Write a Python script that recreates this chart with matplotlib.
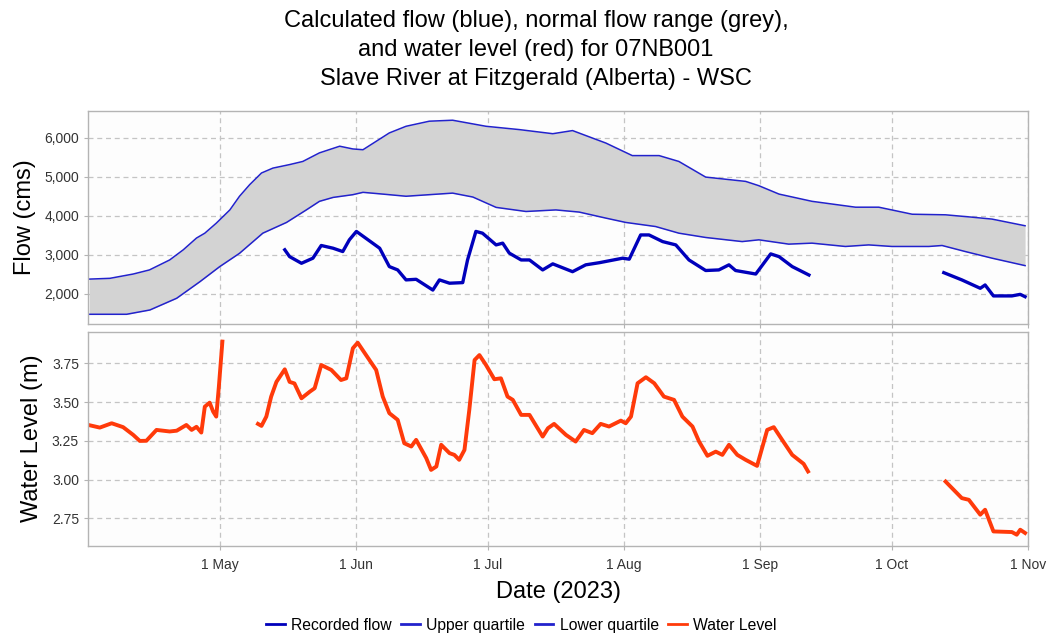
import numpy as np
import matplotlib
matplotlib.use("Agg")
import matplotlib.pyplot as plt
import matplotlib.dates as mdates
from matplotlib.ticker import FuncFormatter, FixedLocator
from matplotlib.lines import Line2D
from datetime import date

plt.rcParams['font.family'] = ['Liberation Sans', 'DejaVu Sans']

# ===== Data (days counted from 1 Apr 2023) =====
START = date(2023, 4, 1)
END = date(2023, 11, 1)

upper_days = [0.3, 5, 10.3, 14, 18.6, 21.7, 24.7, 26.6, 29.2, 32.3, 34.5, 36.8, 39.5, 42.1,
              45.9, 48.9, 52.7, 57.3, 60.3, 62.6, 68.6, 72.4, 77.7, 83, 90.6, 98.2, 105.8,
              110.3, 114.8, 117.9, 123.9, 130, 134.5, 140.6, 149.7, 152.7, 157.3, 164.8,
              174.7, 180, 187.6, 195.2, 201.2, 205.8, 213.3]
upper_flow = [2380, 2400, 2510, 2615, 2870, 3130, 3430, 3555, 3810, 4150, 4500, 4795, 5095, 5220,
              5310, 5390, 5610, 5780, 5710, 5690, 6120, 6290, 6420, 6445, 6290, 6205, 6100,
              6180, 5990, 5860, 5540, 5540, 5390, 4990, 4880, 4770, 4555, 4370,
              4220, 4220, 4040, 4025, 3965, 3915, 3745]

lower_days = [0.3, 8.8, 14.1, 20.2, 25.5, 30, 34.5, 39.8, 45.2, 49.7, 52.7, 55.8, 60.3, 62.6,
              67.1, 72.4, 77.7, 83, 87.6, 92.9, 99.7, 106.5, 111.8, 117.9, 122.4, 129.2,
              134.5, 140.6, 148.9, 152.7, 159.5, 164.8, 172.4, 177.7, 183, 191.4, 194.4,
              199.7, 205.8, 213.3]
lower_flow = [1480, 1480, 1590, 1890, 2315, 2700, 3040, 3555, 3830, 4150, 4370, 4470, 4540, 4600,
              4555, 4500, 4540, 4580, 4480, 4215, 4110, 4150, 4095, 3940, 3830, 3725,
              3555, 3445, 3340, 3385, 3275, 3300, 3215, 3255, 3215, 3215, 3240,
              3085, 2915, 2725]

# recorded flow comes in two pieces with a gap in mid Sep - mid Oct
flow_days_1 = [44.8, 45.9, 48.6, 51.2, 53.1, 55.8, 58.0, 59.5, 61.1, 64.8, 66.4, 68.6, 70.5,
               72.4, 74.7, 78.5, 80, 82.3, 85.3, 86.4, 88.3, 89.8, 92.9, 94.4, 95.9, 98.6,
               100.5, 103.5, 105.8, 110.3, 113.3, 116.4, 121.7, 123.2, 125.8, 127.7, 130.8,
               133.8, 136.8, 140.6, 143.6, 145.9, 147.4, 152, 155.4, 157.3, 160.3, 164.1]
flow_vals_1 = [3130, 2955, 2785, 2915, 3240, 3170, 3085, 3385, 3600, 3300, 3170, 2700, 2615,
               2360, 2375, 2100, 2360, 2275, 2290, 2870, 3600, 3555, 3255, 3300, 3045, 2870,
               2870, 2615, 2770, 2570, 2745, 2800, 2915, 2890, 3510, 3510, 3340,
               3255, 2870, 2600, 2615, 2745, 2600, 2510, 3025, 2955, 2700, 2485]
flow_days_2 = [194.8, 198.9, 203.1, 204.2, 206.1, 210.3, 212.2, 213.3]
flow_vals_2 = [2545, 2360, 2145, 2230, 1950, 1950, 1990, 1930]

# water level, three pieces
level_days_1 = [0.1, 2.7, 5.4, 8, 10.3, 11.8, 13.3, 15.6, 18.6, 20.2, 22.4, 23.6, 24.7, 25.8,
                26.6, 27.7, 28.5, 29.2, 29.8, 30.6]
level_vals_1 = [3.352, 3.335, 3.363, 3.338, 3.288, 3.249, 3.25, 3.32, 3.31, 3.315, 3.352, 3.32,
                3.34, 3.303, 3.47, 3.496, 3.438, 3.406, 3.6, 3.89]
level_days_2 = [38.7, 39.5, 40.6, 41.7, 42.9, 44.8, 45.9, 47, 48.6, 50.5, 51.6, 53.1, 55.4,
                57.6, 58.8, 60.3, 61.4, 63.3, 65.6, 67.1, 68.6, 70.5, 72, 73.6, 74.7, 77,
                78.1, 79.3, 80.4, 82.3, 83.4, 84.5, 85.7, 86.8, 88, 89.1, 90.6, 92.5, 94,
                95.5, 96.7, 98.6, 100.5, 103.5, 104.7, 106.1, 108.8, 111, 112.9, 114.8,
                116.7, 118.6, 121.3, 122.4, 123.6, 125.1, 127, 128.9, 131.1, 133.4, 135.3,
                137.6, 139.1, 141, 142.9, 144.4, 145.9, 147.8, 149.7, 152.3, 154.6, 156.1,
                158, 160.3, 162.9, 163.9]
level_vals_2 = [3.359, 3.346, 3.406, 3.535, 3.63, 3.711, 3.63, 3.62, 3.524, 3.567, 3.589, 3.739,
                3.707, 3.642, 3.653, 3.847, 3.883, 3.803, 3.707, 3.535, 3.428, 3.385, 3.234,
                3.213, 3.256, 3.138, 3.062, 3.084, 3.224, 3.17, 3.159, 3.127, 3.191, 3.449,
                3.771, 3.803, 3.739, 3.647, 3.653, 3.535, 3.514, 3.417, 3.417, 3.277, 3.331,
                3.359, 3.288, 3.245, 3.32, 3.299, 3.359, 3.342, 3.38, 3.363, 3.406, 3.621,
                3.66, 3.621, 3.535, 3.514, 3.406, 3.342, 3.245, 3.153, 3.18, 3.159, 3.224,
                3.159, 3.127, 3.088, 3.32, 3.338, 3.256, 3.159, 3.101, 3.052]
level_days_3 = [195.2, 198.9, 200.5, 203.1, 204.2, 206.1, 210.3, 211.4, 212.2, 213.3]
level_vals_3 = [2.987, 2.88, 2.869, 2.773, 2.805, 2.665, 2.661, 2.644, 2.676, 2.655]

# ===== Styling =====
FLOW_BLUE = "#0000bb"
QUART_BLUE = "#2222cc"
BAND_GREY = "#d3d3d3"
LEVEL_RED = "#ff3a0a"
GRID_GREY = "#c4c4c4"
FRAME_GREY = "#b4b4b4"
TICK_TEXT = "#333333"


def to_num(days):
    return mdates.date2num(START) + np.asarray(days, dtype=float)


def style_axes(ax):
    ax.set_facecolor("#fdfdfd")
    for s in ax.spines.values():
        s.set_color(FRAME_GREY)
        s.set_linewidth(1.0)
    ax.grid(True, color=GRID_GREY, linestyle=(0, (4, 3)), linewidth=0.9)
    ax.set_axisbelow(True)
    ax.tick_params(axis="both", colors=FRAME_GREY, labelcolor=TICK_TEXT,
                   labelsize=10, length=3, width=0.8)
    ax.set_xlim(mdates.date2num(START), mdates.date2num(END))
    ax.xaxis.set_major_locator(mdates.MonthLocator(bymonth=range(5, 12)))


fig = plt.figure(figsize=(10.47, 6.36), dpi=100)
ax_flow = fig.add_axes([0.084, 0.4906, 0.898, 0.335])
ax_lvl = fig.add_axes([0.084, 0.142, 0.898, 0.3365])

# --- flow panel ---
style_axes(ax_flow)
ud, ld = to_num(upper_days), to_num(lower_days)
grid_x = np.union1d(ud, ld)
ax_flow.fill_between(grid_x, np.interp(grid_x, ld, lower_flow), np.interp(grid_x, ud, upper_flow),
                     color=BAND_GREY, linewidth=0)
ax_flow.plot(ud, upper_flow, color=QUART_BLUE, lw=1.1)
ax_flow.plot(ld, lower_flow, color=QUART_BLUE, lw=1.1)
ax_flow.plot(to_num(flow_days_1), flow_vals_1, color=FLOW_BLUE, lw=2.4, solid_joinstyle="round")
ax_flow.plot(to_num(flow_days_2), flow_vals_2, color=FLOW_BLUE, lw=2.4, solid_joinstyle="round")
ax_flow.set_ylim(1232, 6683)
ax_flow.yaxis.set_major_locator(FixedLocator([2000, 3000, 4000, 5000, 6000]))
ax_flow.yaxis.set_major_formatter(FuncFormatter(lambda v, p: f"{v:,.0f}"))
ax_flow.tick_params(axis="x", labelbottom=False)
ax_flow.set_ylabel("Flow (cms)", fontsize=17, labelpad=6)

# --- water level panel ---
style_axes(ax_lvl)
for d, v in [(level_days_1, level_vals_1), (level_days_2, level_vals_2), (level_days_3, level_vals_3)]:
    ax_lvl.plot(to_num(d), v, color=LEVEL_RED, lw=2.8, solid_joinstyle="round")
ax_lvl.set_ylim(2.573, 3.954)
ax_lvl.yaxis.set_major_locator(FixedLocator([2.75, 3.0, 3.25, 3.5, 3.75]))
ax_lvl.yaxis.set_major_formatter(FuncFormatter(lambda v, p: f"{v:.2f}"))
ax_lvl.xaxis.set_major_formatter(FuncFormatter(lambda v, p: f"{mdates.num2date(v).day} {mdates.num2date(v):%b}"))
ax_lvl.tick_params(axis="x", pad=6)
ax_lvl.set_ylabel("Water Level (m)", fontsize=17, labelpad=6)
ax_lvl.set_xlabel("Date (2023)", fontsize=17, labelpad=6)

fig.align_ylabels([ax_flow, ax_lvl])

fig.text(0.512, 1 - 50 / 636, "Calculated flow (blue), normal flow range (grey),\n"
         "and water level (red) for 07NB001\n"
         "Slave River at Fitzgerald (Alberta) - WSC",
         ha="center", va="center", fontsize=17, linespacing=1.44)

handles = [Line2D([], [], color=FLOW_BLUE, lw=2),
           Line2D([], [], color=QUART_BLUE, lw=2),
           Line2D([], [], color=QUART_BLUE, lw=2),
           Line2D([], [], color=LEVEL_RED, lw=2)]
fig.legend(handles, ["Recorded flow", "Upper quartile", "Lower quartile", "Water Level"],
           loc="center", bbox_to_anchor=(0.498, 0.017), ncol=4, frameon=False, fontsize=11.3,
           handlelength=1.2, handletextpad=0.4, columnspacing=0.6)

fig.savefig("out.png", dpi=100)
